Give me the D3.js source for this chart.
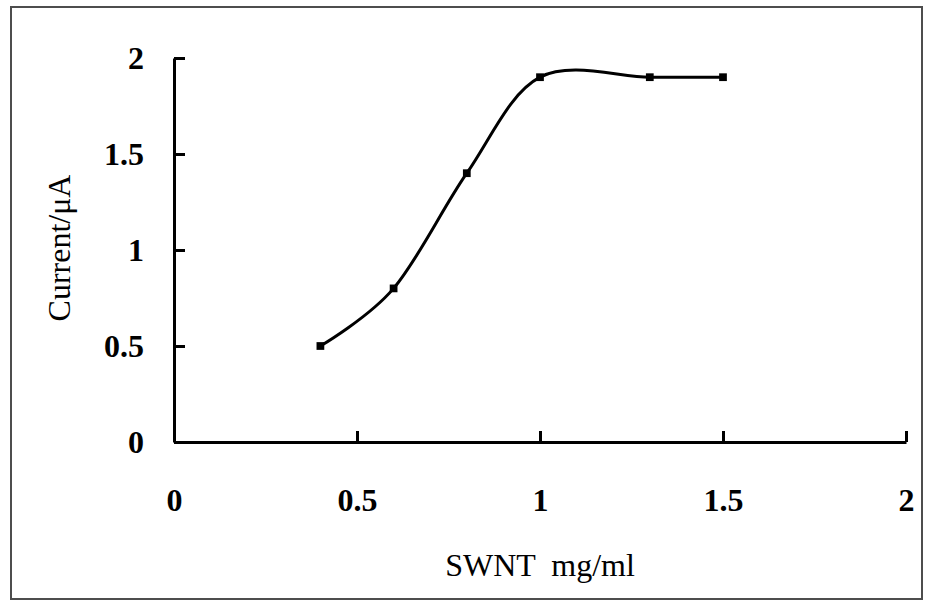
<!DOCTYPE html>
<html>
<head>
<meta charset="utf-8">
<script src="https://cdn.jsdelivr.net/npm/d3@7"></script>
<style>
  html, body { margin: 0; padding: 0; background: #fff; }
  svg { display: block; }
  text { font-family: "Liberation Serif", "Times New Roman", serif; fill: #000; }
</style>
</head>
<body>
<svg id="chart" width="933" height="606"></svg>
<script>
// ---- data ----
const swnt = [0.4, 0.6, 0.8, 1.0, 1.3, 1.5];
const current = [0.5, 0.8, 1.4, 1.9, 1.9, 1.9];
const xTicks = [0, 0.5, 1, 1.5, 2];
const yTicks = [0, 0.5, 1, 1.5, 2];
const xTitle = "SWNT  mg/ml";
const yTitle = "Current/μA";

const svg = d3.select("#chart");
const W = 933, H = 606;
svg.append("rect").attr("width", W).attr("height", H).attr("fill", "#fff");

// outer chart border
svg.append("rect")
  .attr("x", 11).attr("y", 7).attr("width", 911).attr("height", 592)
  .attr("fill", "none").attr("stroke", "#4d4d4d").attr("stroke-width", 2);

const x = d3.scaleLinear().domain([0, 2]).range([174, 906]);
const y = d3.scaleLinear().domain([0, 2]).range([442, 58]);

const fmt = d => String(d);

// y axis
const yAxis = svg.append("g")
  .attr("transform", `translate(${x(0)},0)`)
  .call(d3.axisLeft(y).tickValues(yTicks).tickFormat(fmt)
    .tickSizeInner(-11).tickSizeOuter(0).tickPadding(30));
yAxis.select(".domain").attr("stroke", "#000").attr("stroke-width", 3);
yAxis.selectAll(".tick line").attr("stroke", "#000").attr("stroke-width", 3);
yAxis.selectAll(".tick text")
  .attr("font-size", 32).attr("font-weight", "bold")
  .attr("font-family", "Liberation Serif, serif").attr("fill", "#000");

// x axis
const xAxis = svg.append("g")
  .attr("transform", `translate(0,${y(0)})`)
  .call(d3.axisBottom(x).tickValues(xTicks).tickFormat(fmt)
    .tickSizeInner(-11).tickSizeOuter(0).tickPadding(46));
xAxis.select(".domain").attr("stroke", "#000").attr("stroke-width", 3);
xAxis.selectAll(".tick line").attr("stroke", "#000").attr("stroke-width", 3);
xAxis.selectAll(".tick text")
  .attr("font-size", 32).attr("font-weight", "bold")
  .attr("font-family", "Liberation Serif, serif").attr("fill", "#000");

// series
const pts = swnt.map((v, i) => [v, current[i]]);
const line = d3.line()
  .x(d => x(d[0])).y(d => y(d[1]))
  .curve(d3.curveCatmullRom.alpha(0));
svg.append("path")
  .datum(pts)
  .attr("d", line)
  .attr("fill", "none").attr("stroke", "#000").attr("stroke-width", 3);

svg.append("g").selectAll("path")
  .data(pts).join("path")
  .attr("transform", d => `translate(${x(d[0])},${y(d[1])})`)
  .attr("d", d3.symbol().type(d3.symbolSquare).size(60))
  .attr("fill", "#000");

// axis titles
svg.append("text")
  .attr("x", 540).attr("y", 576)
  .attr("text-anchor", "middle")
  .attr("font-size", 32)
  .style("white-space", "pre")
  .text(xTitle);

svg.append("text")
  .attr("transform", "translate(70,248) rotate(-90)")
  .attr("text-anchor", "middle")
  .attr("font-size", 32)
  .text(yTitle);
</script>
</body>
</html>
